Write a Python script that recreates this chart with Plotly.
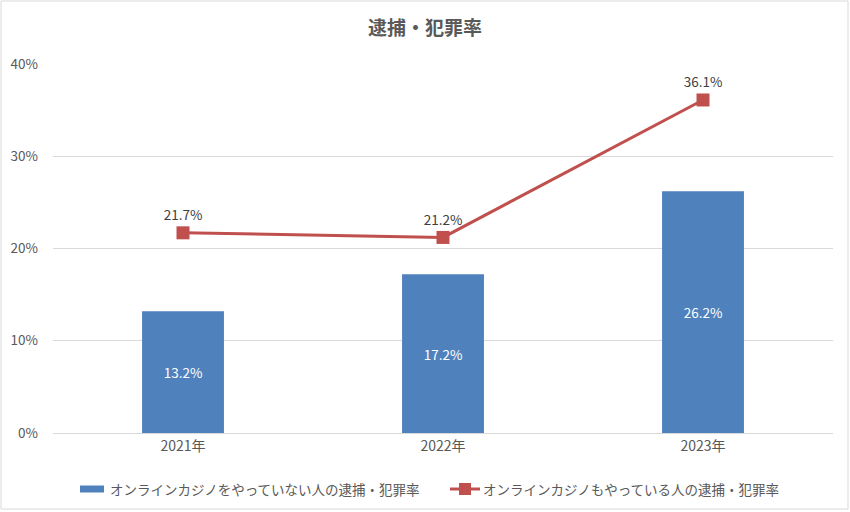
import plotly.graph_objects as go

categories = ["2021年", "2022年", "2023年"]
no_casino = [13.2, 17.2, 26.2]
with_casino = [21.7, 21.2, 36.1]
y_ticks = [0, 10, 20, 30, 40]
y_tick_labels = ["0%", "10%", "20%", "30%", "40%"]
legend_names = ["オンラインカジノをやっていない人の逮捕・犯罪率",
                "オンラインカジノもやっている人の逮捕・犯罪率"]

FONT = "Noto Sans CJK JP"
GRAY = "#595959"
BLUE = "#4F81BD"
RED = "#C0504D"

W, H = 850, 512
L, R, T, B = 53, 17, 64, 79
pw = W - L - R
ph = H - T - B


def px(x):
    return (x - L) / pw


def py(y):
    return (H - B - y) / ph


fig = go.Figure()
fig.add_trace(go.Bar(
    x=categories, y=no_casino,
    name=legend_names[0],
    marker=dict(color=BLUE, line=dict(width=0)),
    width=0.315,
    text=[f"{v:.1f}%" for v in no_casino],
    textposition="inside", insidetextanchor="middle",
    textfont=dict(color="white", size=13.5, family=FONT),
    hoverinfo="skip",
))
fig.add_trace(go.Scatter(
    x=categories, y=with_casino,
    name=legend_names[1],
    mode="lines+markers+text",
    line=dict(color=RED, width=3),
    marker=dict(symbol="square", size=13, color=RED),
    text=[f"{v:.1f}%" for v in with_casino],
    textposition="top center",
    textfont=dict(color="#404040", size=13.5, family=FONT),
    cliponaxis=False,
))

# outer chart border
fig.add_shape(type="rect", xref="paper", yref="paper",
              x0=px(1), x1=px(W - 2), y0=py(H - 3), y1=py(1),
              line=dict(color="#D9D9D9", width=1), fillcolor="rgba(0,0,0,0)", layer="below")

# custom legend
ly = 489
fig.add_shape(type="rect", xref="paper", yref="paper",
              x0=px(80), x1=px(104), y0=py(ly + 3.5), y1=py(ly - 3.5),
              line=dict(width=0), fillcolor=BLUE)
fig.add_shape(type="line", xref="paper", yref="paper",
              x0=px(450), x1=px(480), y0=py(ly), y1=py(ly),
              line=dict(color=RED, width=3))
fig.add_shape(type="rect", xref="paper", yref="paper",
              x0=px(459), x1=px(471), y0=py(ly + 6), y1=py(ly - 6),
              line=dict(width=0), fillcolor=RED)
fig.add_annotation(xref="paper", yref="paper", x=px(108), y=py(ly), text=legend_names[0],
                   showarrow=False, xanchor="left", yanchor="middle",
                   font=dict(size=13.5, color=GRAY, family=FONT))
fig.add_annotation(xref="paper", yref="paper", x=px(481), y=py(ly), text=legend_names[1],
                   showarrow=False, xanchor="left", yanchor="middle",
                   font=dict(size=13.5, color=GRAY, family=FONT))

fig.update_layout(
    width=W, height=H,
    margin=dict(l=L, r=R, t=T, b=B),
    paper_bgcolor="white", plot_bgcolor="white",
    font=dict(family=FONT, color=GRAY, size=13),
    title=dict(text="<b>逮捕・犯罪率</b>", x=0.5, xanchor="center", y=1 - 28 / H, yanchor="middle",
               font=dict(size=19, color=GRAY, family=FONT)),
    showlegend=False,
    bargap=0.6,
)
fig.update_xaxes(showgrid=False, showline=True, linecolor="#D9D9D9", linewidth=1,
                 ticks="", tickfont=dict(size=14, color=GRAY, family=FONT))
fig.update_yaxes(range=[0, 40], tickvals=y_ticks, ticktext=y_tick_labels,
                 showgrid=True, gridcolor="#D9D9D9", gridwidth=1, zeroline=False,
                 showline=False, ticks="", ticklabelstandoff=14,
                 tickfont=dict(size=13.5, color=GRAY, family=FONT))

fig.write_html("out.html", config={"displayModeBar": False},
               post_script="document.body.style.margin='0';")
